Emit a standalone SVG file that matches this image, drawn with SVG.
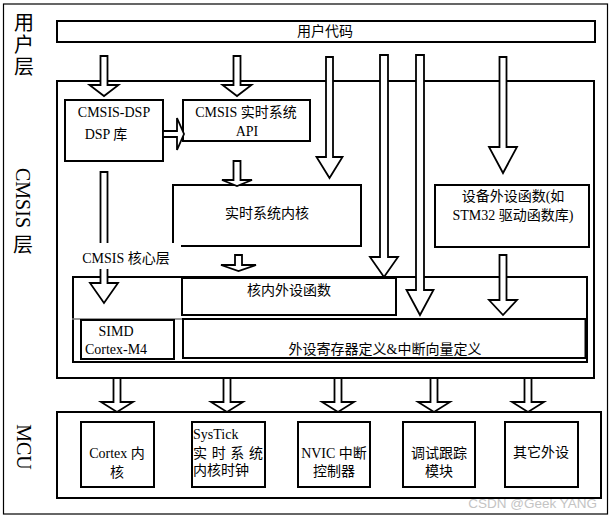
<svg xmlns="http://www.w3.org/2000/svg" width="612" height="518" viewBox="0 0 612 518">
<style>
.box{fill:none;stroke:#000;stroke-width:2}
.wbox{fill:#fff;stroke:#000;stroke-width:2}
.arr{fill:#fff;stroke:#000;stroke-width:1.8;stroke-linejoin:miter}
.t{font-family:"Liberation Serif","Noto Sans CJK SC",serif;font-size:14px;fill:#000;text-anchor:middle;dominant-baseline:central}
.tl{font-family:"Liberation Serif","Noto Sans CJK SC",serif;font-size:14px;fill:#000;dominant-baseline:central}
.side{font-family:"Liberation Serif","Noto Sans CJK SC",serif;font-size:20px;fill:#000;text-anchor:middle;dominant-baseline:central}
.wm{font-family:"Liberation Sans",sans-serif;font-size:13.5px;fill:#c4c4c4;text-anchor:end;dominant-baseline:central}
</style>
<rect x="0" y="0" width="612" height="518" fill="#fff"/>
<rect x="3.5" y="4" width="604" height="510" fill="none" stroke="#000" stroke-width="1.2"/>

<g id="layer-labels">
<text class="side" x="24" y="23">用</text>
<text class="side" x="24" y="45">户</text>
<text class="side" x="24" y="67">层</text>
<text class="side" transform="translate(23,198) rotate(90)" x="0" y="0">CMSIS</text>
<text class="side" x="23" y="245">层</text>
<text class="side" transform="translate(24,447) rotate(90)" x="0" y="0">MCU</text>
</g>

<g id="user-code">
<rect class="box" x="57" y="21" width="538" height="21"/>
<text class="t" x="325" y="31">用户代码</text>
</g>

<g id="cmsis-layer">
<rect class="box" x="57" y="81" width="537" height="297"/>
</g>

<g id="cmsis-dsp">
<rect class="box" x="65" y="100" width="98" height="61"/>
<text class="t" x="114" y="112">CMSIS-DSP</text>
<text class="t" x="106" y="134">DSP 库</text>
</g>

<g id="rtos-api">
<rect class="box" x="183" y="100" width="127" height="41"/>
<text class="t" x="246" y="112">CMSIS 实时系统</text>
<text class="t" x="247" y="131">API</text>
</g>

<g id="rtos-kernel">
<rect class="box" x="173" y="185" width="188" height="61"/>
<text class="t" x="267" y="213">实时系统内核</text>
</g>

<g id="device-periph">
<rect class="box" x="435" y="185" width="154" height="62"/>
<text class="t" x="513" y="196">设备外设函数(如</text>
<text class="t" x="513" y="215">STM32 驱动函数库)</text>
</g>

<g id="cmsis-core">
<rect class="box" x="73" y="277" width="514" height="85"/>
<line x1="72" y1="319" x2="183" y2="319" stroke="#777" stroke-width="1.5"/>
</g>

<g id="core-periph">
<rect class="box" x="182" y="278" width="214" height="37"/>
<text class="t" x="289" y="290">核内外设函数</text>
</g>

<g id="simd">
<rect class="box" x="81" y="320" width="93" height="39"/>
<text class="t" x="116" y="331">SIMD</text>
<text class="t" x="116" y="349">Cortex-M4</text>
</g>

<g id="reg-def">
<rect class="box" x="183" y="319" width="403" height="39"/>
<line x1="586" y1="319" x2="586" y2="358" stroke="#000" stroke-width="3"/>
<text class="t" x="385" y="349">外设寄存器定义&amp;中断向量定义</text>
</g>

<g id="mcu">
<rect class="box" x="57" y="412" width="544" height="86"/>
</g>

<g id="cortex-core">
<rect class="box" x="81" y="422" width="73" height="65"/>
<text class="t" x="117" y="453">Cortex 内</text>
<text class="t" x="117" y="472">核</text>
</g>

<g id="systick">
<rect class="box" x="192" y="422" width="73" height="65"/>
<text class="tl" x="193" y="434">SysTick</text>
<text class="tl" x="193" y="453" textLength="70" lengthAdjust="spacing">实时系统</text>
<text class="tl" x="193" y="470">内核时钟</text>
</g>

<g id="nvic">
<rect class="box" x="298" y="422" width="72" height="65"/>
<text class="t" x="334" y="453">NVIC 中断</text>
<text class="t" x="334" y="471">控制器</text>
</g>

<g id="debug">
<rect class="box" x="403" y="422" width="72" height="65"/>
<text class="t" x="439" y="453">调试跟踪</text>
<text class="t" x="439" y="471">模块</text>
</g>

<g id="other-periph">
<rect class="box" x="505" y="422" width="73" height="65"/>
<text class="t" x="541" y="452">其它外设</text>
</g>

<g id="connectors">
<path class="arr" d="M100.5,56 H107.5 V85 H118.5 L104,96 L89.5,85 H100.5 Z"/>
<path class="arr" d="M233.5,56 H240.5 V85 H251.5 L237,96 L222.5,85 H233.5 Z"/>
<path class="arr" d="M326,57 H333 V157 H342.5 L329.5,178 L316.5,157 H326 Z"/>
<path class="arr" d="M380,55 H388 V257 H398 L384,277 L370,257 H380 Z"/>
<path class="arr" d="M416,55 H424 V290 H433.5 L420,315 L406.5,290 H416 Z"/>
<path class="arr" d="M499.5,57 H506.5 V147 H517 L503,173 L489,147 H499.5 Z"/>
<path class="arr" d="M499.5,255 H506.5 V300 H517 L503,315 L489,300 H499.5 Z"/>
<path class="arr" d="M233.5,161 H240.5 V180 H252 L237,186 L222,180 H233.5 Z"/>
<path class="arr" d="M235,255 H242 V265 H256 L238.5,271 L221,265 H235 Z"/>
<path class="arr" d="M100.5,172 H107.5 V283 H118 L104,303 L90,283 H100.5 Z"/>
<path class="arr" d="M163,131 H177 V118 L184,134 L177,150 V137 H163 Z"/>
<path class="arr" d="M113.5,378 H120.5 V402 H133 L117,412 L101,402 H113.5 Z"/>
<path class="arr" d="M223.5,378 H230.5 V402 H243 L227,412 L211,402 H223.5 Z"/>
<path class="arr" d="M334.5,378 H341.5 V402 H354 L338,412 L322,402 H334.5 Z"/>
<path class="arr" d="M430.5,378 H437.5 V402 H450 L434,412 L418,402 H430.5 Z"/>
<path class="arr" d="M524.5,378 H531.5 V402 H544 L528,412 L512,402 H524.5 Z"/>
</g>

<g id="core-label">
<rect x="77" y="243" width="104" height="26" fill="#fff"/>
<text class="t" x="126" y="258">CMSIS 核心层</text>
</g>

<text class="wm" x="597" y="503">CSDN @Geek YANG</text>
</svg>
